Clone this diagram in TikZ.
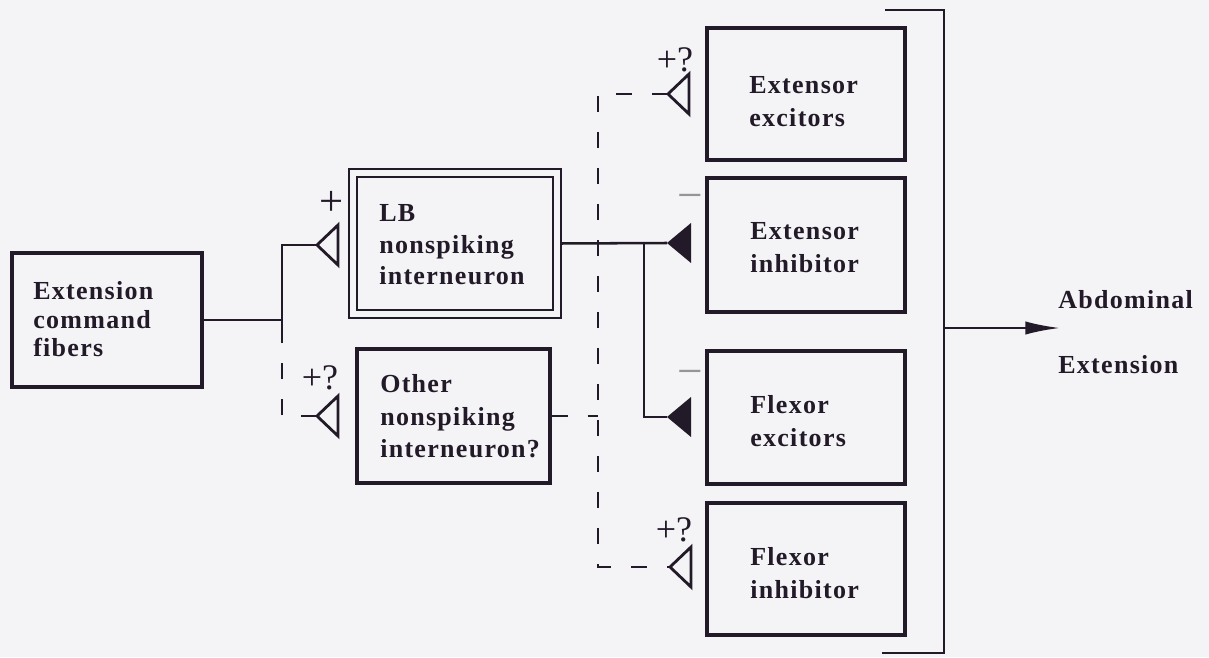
\documentclass[tikz,border=0pt]{standalone}
\usepackage{fontspec}
\setmainfont{Liberation Serif}
\newfontfamily\lblfont[LetterSpace=5]{Liberation Serif}
\usetikzlibrary{arrows.meta,fit}
\definecolor{ink}{RGB}{34,26,40}
\definecolor{paper}{RGB}{244,243,245}
\definecolor{faint}{RGB}{150,148,152}
\pgfdeclarelayer{bg}
\pgfdeclarelayer{wires}
\pgfsetlayers{bg,wires,main}
\tikzset{
  box/.style={draw=ink, line width=2.5pt, inner sep=0pt},
  dbox/.style={draw=ink, double=paper, line width=1.8pt, double distance=4pt, inner sep=0pt},
  lbl/.style={font=\lblfont\bfseries\fontsize{19.5}{#1}\selectfont, text=ink, align=left, anchor=west, inner sep=0pt},
  lbl/.default=23.6,
  sign/.style={font=\fontsize{27}{27}\selectfont, text=ink, inner sep=0pt},
  minus/.style={font=\fontsize{34}{34}\selectfont, text=faint, inner sep=0pt},
  wire/.style={draw=ink, line width=1.9pt},
  dsh/.style={dash pattern=on 12pt off 15pt},
  osyn/.pic={\draw[ink, line width=2.1pt, line join=miter] (0,0) -- (21,-20) -- (21,20) -- cycle;},
  fsyn/.pic={\fill[ink] (0,0) -- (24,-20) -- (24,20) -- cycle;},
}
\begin{document}
\begin{tikzpicture}[x=0.75pt,y=-0.75pt]
\begin{pgfonlayer}{bg}
\fill[paper] (0,0) rectangle (1209,657);
\end{pgfonlayer}
\useasboundingbox (0,0) rectangle (1209,657);

% boxes
\node[box, fit={(12,253) (202,387)}] (cmd) {};
\node[dbox, fit={(353,173) (557,314)}] (lb) {};
\node[box, fit={(357,349) (550,483)}] (oth) {};
\node[box, fit={(707,28) (905,160)}] (ee) {};
\node[box, fit={(707,178) (905,312)}] (ei) {};
\node[box, fit={(707,351) (905,484)}] (fe) {};
\node[box, fit={(707,503) (905,635)}] (fi) {};

% box texts
\node[lbl=21.4] (cmdt) at (33,319.5) {Extension\\command\\fibers};
\node[lbl=23.6] (lbt) at (379,244.7) {LB\\nonspiking\\interneuron};
\node[lbl=24.4] (otht) at (380,416.5) {Other\\nonspiking\\interneuron?};
\node[lbl=24.75] (eet) at (749,101.7) {Extensor\\excitors};
\node[lbl=24.75] (eit) at (750,247.7) {Extensor\\inhibitor};
\node[lbl=24.75] (fet) at (750,421.2) {Flexor\\excitors};
\node[lbl=24.75] (fitx) at (750,573) {Flexor\\inhibitor};
\node[lbl, anchor=base west] (abd) at (1058,308) {Abdominal};
\node[lbl, anchor=base west] (ext) at (1058,373) {Extension};

% signs
\node[sign, font=\fontsize{32}{32}\selectfont] (p1) at (332,203) {+};
\node[sign] (p2) at (320,378) {+?};
\node[sign] (p3) at (675,60) {+?};
\node[sign] (p4) at (674,530) {+?};
\node[minus] (m1) at (690,202) {−};
\node[minus] (m2) at (690,378) {−};

% coordinates
\coordinate (s1) at (317,245);
\coordinate (s2) at (317,416);
\coordinate (s3) at (668,94);
\coordinate (s4) at (670,567);
\coordinate (f1) at (667,243);
\coordinate (f2) at (667,417);
\coordinate (j1) at (282,320);
\coordinate (j1b) at (282,338);
\coordinate (j2) at (644,243);
\coordinate (dtop) at (598,94);
\coordinate (dbot) at (598,567);
\coordinate (bt) at (885,10);
\coordinate (btr) at (944,10);
\coordinate (bbr) at (944,653);
\coordinate (bb) at (882,653);
\coordinate (bm) at (944,328);
\coordinate (tip) at (1060,328);

\begin{pgfonlayer}{wires}
\draw[wire] (cmd.east) -- (j1) -- (j1b);
\draw[wire] (j1b) |- (s1);
\draw[wire,dsh] (s2) -| (j1b);
\draw[wire] (lb.east) -- (f1);
\draw[wire] (j2) |- (f2);
\draw[wire,dsh] (s3) -- (dtop) -- (dbot) -- (s4);
\draw[wire,dsh] (oth.east) -- (oth.east -| dtop);
\draw[wire] (bt) -- (btr) -- (bbr) -- (bb);
\draw[wire,-{Latex[length=26pt,width=10pt]}] (bm) -- (tip);
\end{pgfonlayer}

% synapses
\pic at (s1) {osyn};
\pic at (s2) {osyn};
\pic at (s3) {osyn};
\pic at (s4) {osyn};
\pic at (f1) {fsyn};
\pic at (f2) {fsyn};
\end{tikzpicture}
\end{document}
